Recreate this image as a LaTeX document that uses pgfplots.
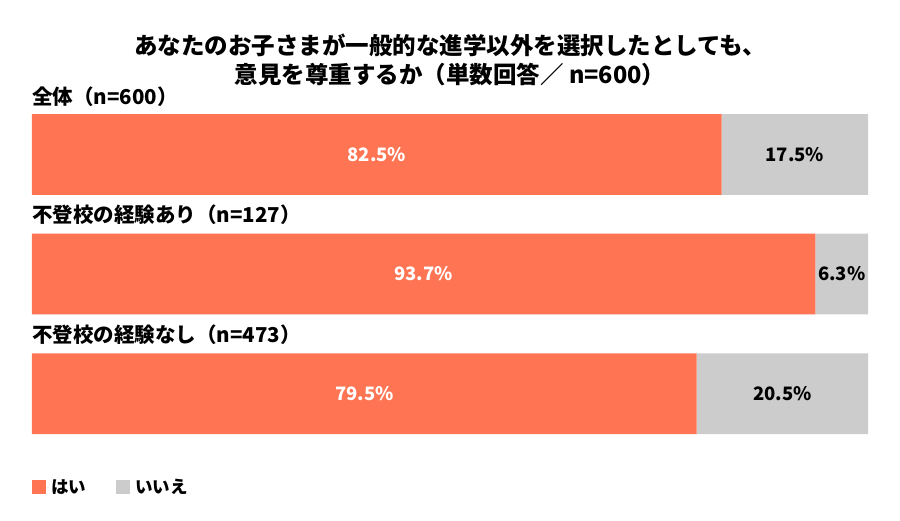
\documentclass[border=0pt]{standalone}
\usepackage{fontspec}
\setmainfont{Noto Sans CJK JP}
\usepackage{pgfplots}
\pgfplotsset{compat=1.18}
\definecolor{cyes}{HTML}{FF7452}
\definecolor{cno}{HTML}{CCCCCC}
\tikzset{vlab/.style={font=\bfseries\fontsize{18.5}{18.5}\selectfont},
  clab/.style={font=\bfseries\fontsize{20.5}{20.5}\selectfont, anchor=west, inner sep=0pt}}
\begin{document}
\begin{tikzpicture}
\useasboundingbox (-32pt,-86pt) rectangle (868pt,434pt);
\begin{axis}[
  at={(0,0)}, anchor=south west,
  scale only axis, width=836pt, height=320pt,
  xbar stacked, bar width=0.675,
  xmin=0, xmax=100, ymin=-0.3375, ymax=2.3375,
  y dir=reverse,
  hide axis,
  clip=false,
  legend style={at={(axis description cs:0,0)}, anchor=west, yshift=-53pt,
    draw=none, fill=none, inner sep=0pt, legend columns=2,
    font=\bfseries\fontsize{17.5}{17.5}\selectfont,
    /tikz/every even column/.append style={column sep=28pt}},
  legend image code/.code={\fill[#1] (0pt,-7pt) rectangle (14pt,7pt); \path (0pt,0pt) -- (17pt,0pt);},
]
\addplot[fill=cyes, draw=none] coordinates {(82.5,0) (93.7,1) (79.5,2)};
\addplot[fill=cno, draw=none] coordinates {(17.5,0) (6.3,1) (20.5,2)};
\legend{はい, いいえ}
\coordinate (y0) at (axis cs:41.25,0);
\coordinate (n0) at (axis cs:91.25,0);
\coordinate (y1) at (axis cs:46.85,1);
\coordinate (n1) at (axis cs:96.85,1);
\coordinate (y2) at (axis cs:39.75,2);
\coordinate (n2) at (axis cs:89.75,2);
\node[clab] at (axis cs:0,-0.485) {全体（n=600）};
\node[clab] at (axis cs:0,0.505) {不登校の経験あり（n=127）};
\node[clab] at (axis cs:0,1.505) {不登校の経験なし（n=473）};
\end{axis}
\node[vlab, white] at (y0) {82.5\%};
\node[vlab] at (n0) {17.5\%};
\node[vlab, white] at (y1) {93.7\%};
\node[vlab] at (n1) {6.3\%};
\node[vlab, white] at (y2) {79.5\%};
\node[vlab] at (n2) {20.5\%};
\node[font=\bfseries\fontsize{23.5}{23.5}\selectfont] at (418pt,389pt) {あなたのお子さまが一般的な進学以外を選択したとしても、};
\node[font=\bfseries\fontsize{23.5}{23.5}\selectfont] at (418pt,359pt) {意見を尊重するか（単数回答／ n=600）};
\end{tikzpicture}
\end{document}
